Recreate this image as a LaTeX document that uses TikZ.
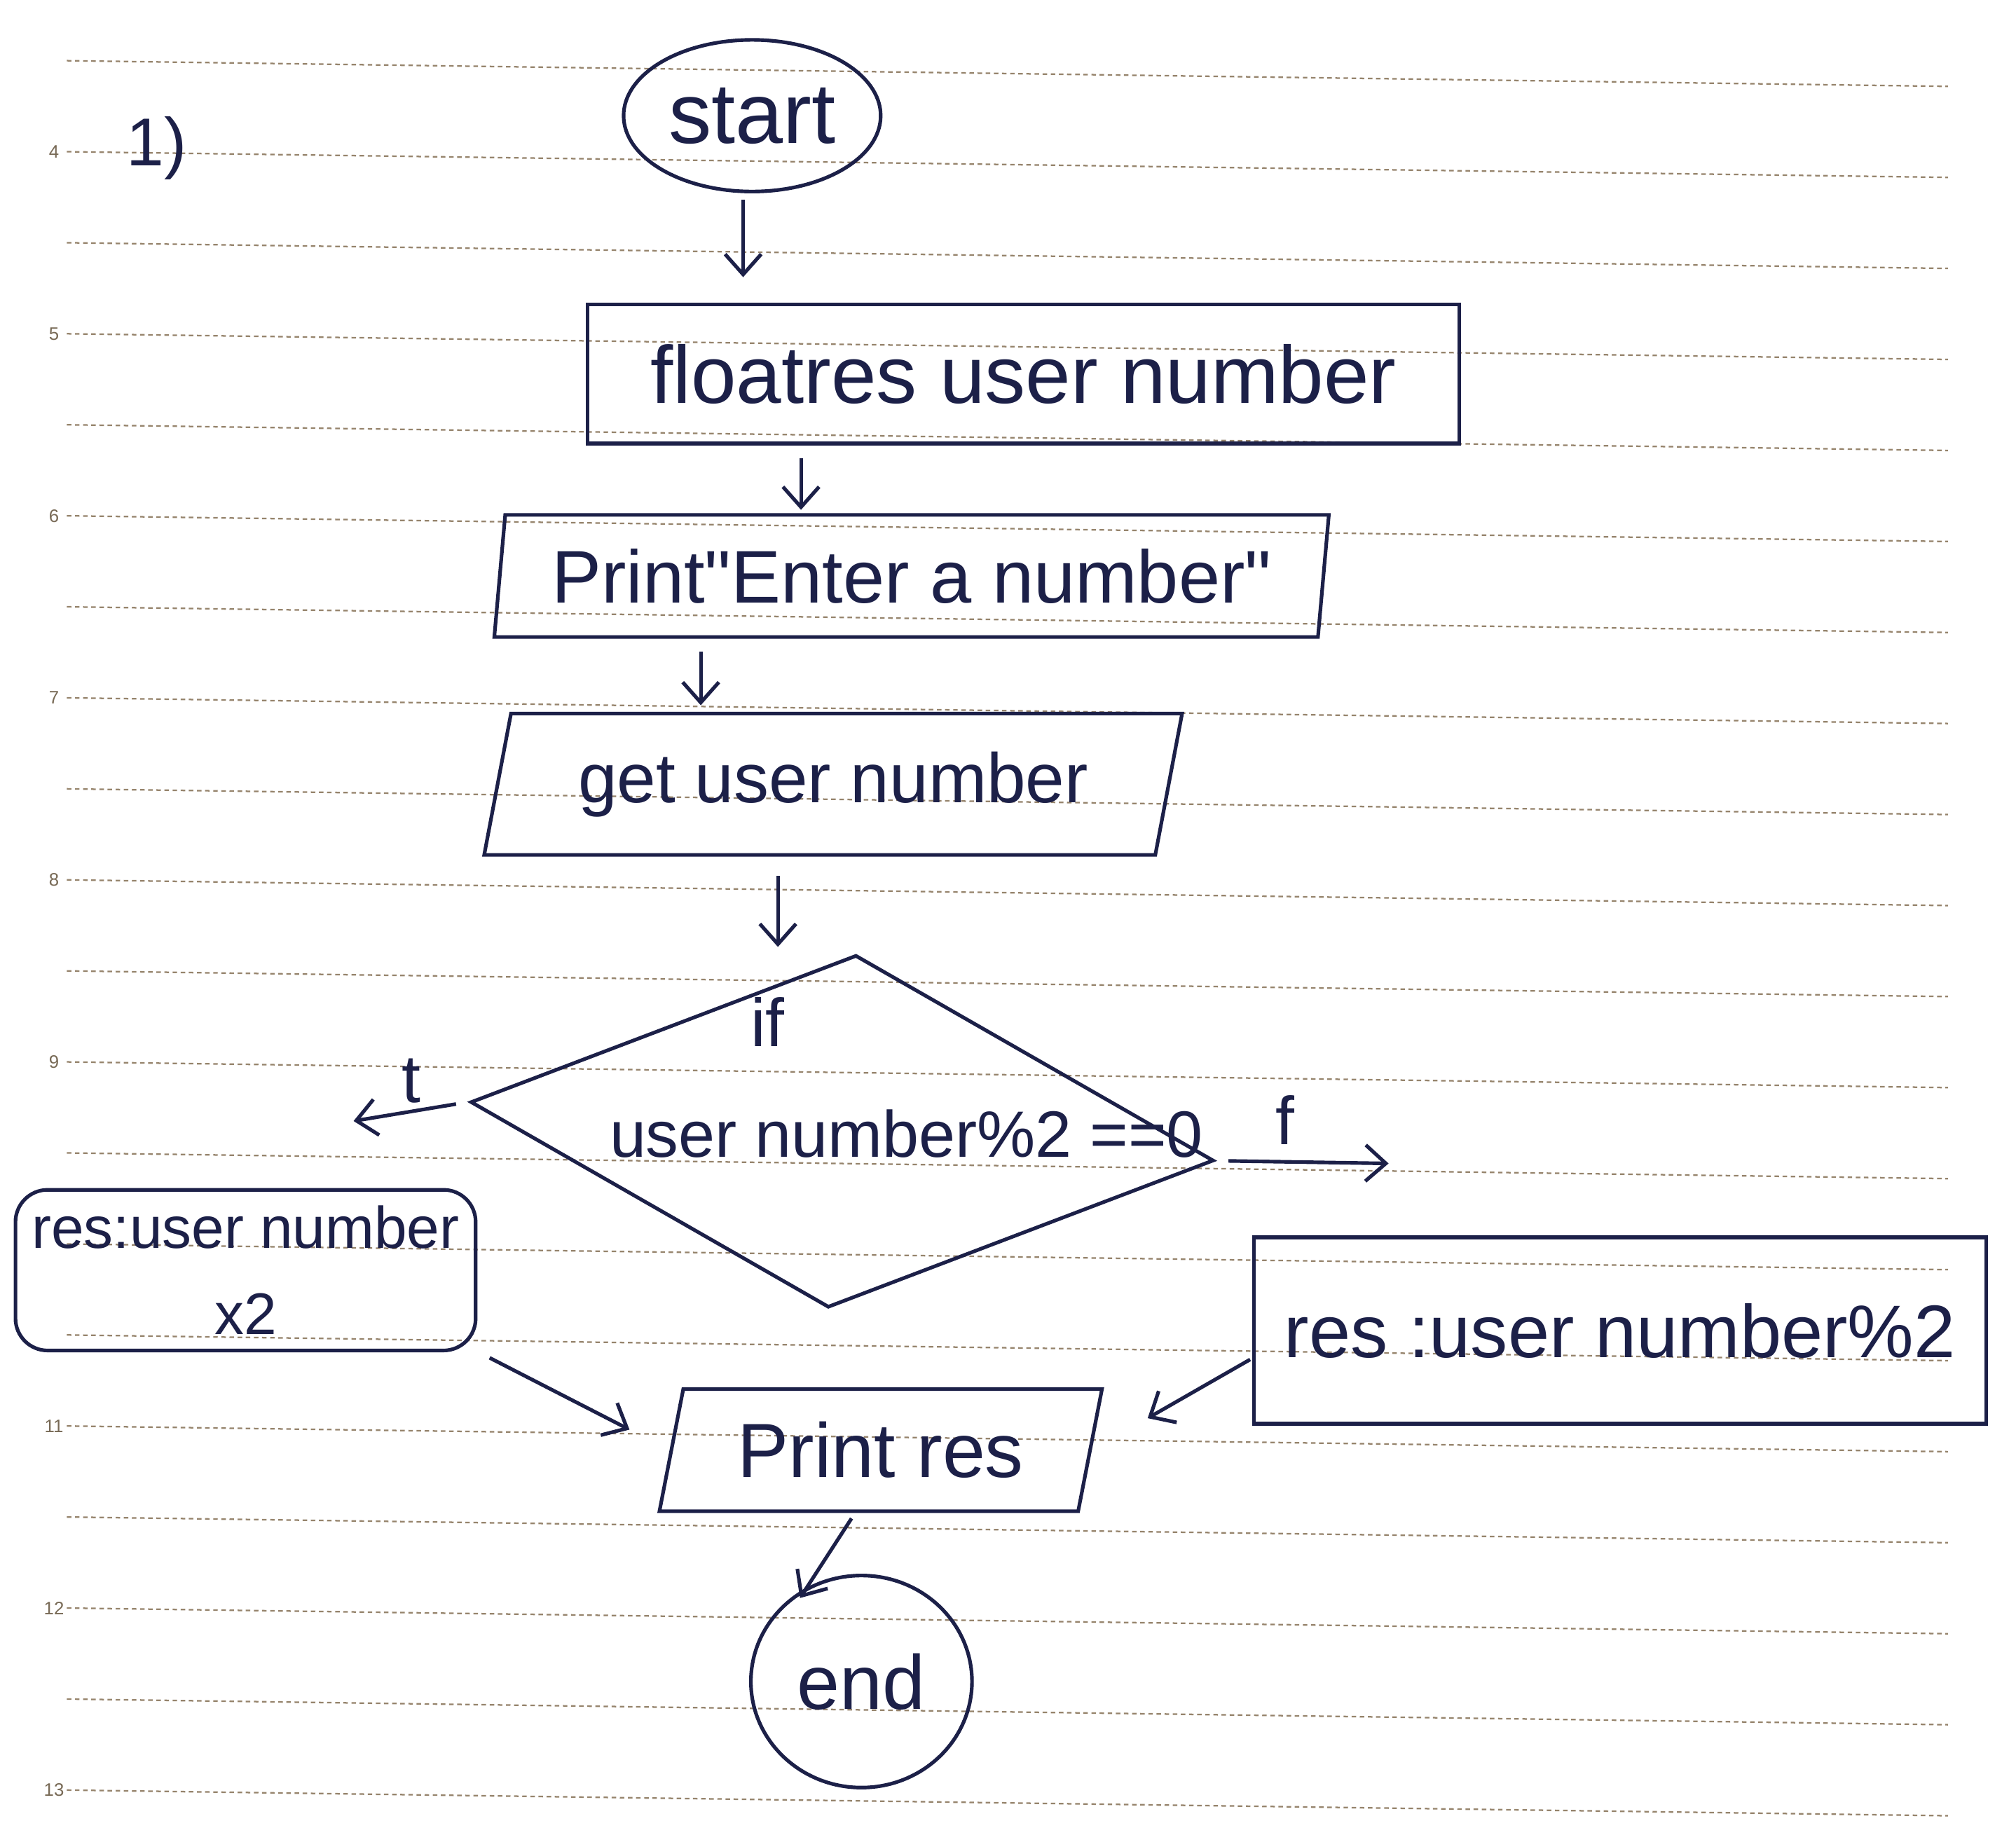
\documentclass[tikz,border=0pt]{standalone}
\usepackage{fontspec}
\setmainfont{Liberation Sans}[Ligatures=TeXOff]
\usetikzlibrary{shapes.geometric,arrows.meta,calc}
\definecolor{ink}{RGB}{28,32,72}
\definecolor{rulecol}{RGB}{150,132,108}
\begin{document}
\begin{tikzpicture}[x=0.02cm,y=-0.02cm,
  inkbox/.style={draw=ink,line width=1.6pt,text=ink,inner sep=0pt},
  txt/.style={text=ink,inner sep=1pt},
  arr/.style={draw=ink,line width=1.6pt,-{Straight Barb[length=9pt,width=16pt,line width=1.6pt]}},
  ruleline/.style={draw=rulecol,line width=0.7pt,dash pattern=on 2pt off 1.6pt},
  rulenum/.style={text=rulecol!80!black,font=\fontsize{8}{9}\selectfont,inner sep=0pt}]
% paper
\fill[white] (0,0) rectangle (1568,1416);
\useasboundingbox (0,0) rectangle (1568,1416);
\foreach \k in {-1,...,18}{
  \draw[ruleline] (52,{118+70.8*\k}) -- (1515,{118+70.8*\k+20});
}
\foreach \n/\k in {4/0,5/2,6/4,7/6,8/8,9/10,11/14,12/16,13/18}{
  \node[rulenum] (num\n) at (42,{118+70.8*\k}) {\n};
}
% label
\node[txt,font=\fontsize{30}{36}\selectfont] (qnum) at (122,115) {1)};
% nodes
\node[inkbox,ellipse,minimum width=4cm,minimum height=2.36cm,font=\fontsize{38}{46}\selectfont] (start) at (585,90) {start};
\node[inkbox,rectangle,minimum width=13.56cm,minimum height=2.16cm,font=\fontsize{36}{43}\selectfont] (float) at (796,291) {floatres user number};
\node[inkbox,trapezium,trapezium left angle=80,trapezium right angle=100,trapezium stretches=true,minimum width=13cm,minimum height=1.9cm,font=\fontsize{33}{40}\selectfont] (print) at (709,448) {Print"Enter a number"};
\node[inkbox,trapezium,trapezium left angle=72,trapezium right angle=108,trapezium stretches=true,minimum width=10.9cm,minimum height=2.2cm,font=\fontsize{31}{37}\selectfont] (get) at (648,610) {get user number};
\node[inkbox,diamond,minimum width=11.6cm,minimum height=5.5cm,rotate=-4.5] (dec) at (655,880) {};
\node[txt,font=\fontsize{30}{36}\selectfont] (ifl) at (597,795) {if};
\node[txt,font=\fontsize{29}{35}\selectfont] (cond) at (705,882) {user number\%2 ==0};
\node[inkbox,rectangle,rounded corners=0.5cm,minimum width=7.16cm,minimum height=2.5cm,align=center,font=\fontsize{26}{38}\selectfont] (lbox) at (191,988) {res:user number\\x2};
\node[inkbox,rectangle,minimum width=11.4cm,minimum height=2.9cm,font=\fontsize{33}{40}\selectfont] (rbox) at (1260,1035) {res :user number\%2};
\node[inkbox,trapezium,trapezium left angle=73,trapezium right angle=107,trapezium stretches=true,minimum width=6.9cm,minimum height=1.9cm,font=\fontsize{34}{41}\selectfont] (pres) at (685,1128) {Print res};
\node[inkbox,ellipse,minimum width=3.44cm,minimum height=3.3cm,font=\fontsize{34}{41}\selectfont] (stop) at (670,1308) {end};
% connector start points and free ends
\coordinate (a1) at ($(start.south)+(-7,0)$);
\coordinate (a2) at ($(float.south)+(-173,0)$);
\coordinate (a3) at ($(print.south)+(-164,0)$);
\coordinate (a4) at ($(get.south)+(-43,0)$);
\coordinate (tend) at (275,872);
\coordinate (fend) at (1080,905);
% connectors
\draw[arr,shorten <=0.1cm,shorten >=0.4cm] (a1) -- (a1 |- float.north);
\draw[arr,shorten <=0.2cm,shorten >=0.05cm] (a2) -- (a2 |- print.north);
\draw[arr,shorten <=0.2cm,shorten >=0.1cm] (a3) -- (a3 |- get.north);
\draw[arr,shorten <=0.3cm,shorten >=0.1cm] (a4) -- (a4 |- dec.north);
\draw[arr,shorten <=0.2cm] (dec.west) -- node[txt,above,yshift=2pt,font=\fontsize{30}{36}\selectfont] (tlab) {t} (tend);
\draw[arr,shorten <=0.2cm] (dec.east) -- node[txt,above,pos=0.4,yshift=6pt,font=\fontsize{30}{36}\selectfont] (flab) {f} (fend);
\draw[arr,shorten <=0.1cm,shorten >=0.7cm] ([shift={(5,2)}]lbox.south east) -- (pres.west);
\draw[arr,shorten <=0.1cm,shorten >=1.0cm] ([shift={(3,20)}]rbox.west) -- (pres.east);
\draw[arr,shorten <=0.1cm,shorten >=-0.2cm] ([shift={(-20,0)}]pres.south) -- (stop.120);
\end{tikzpicture}
\end{document}
